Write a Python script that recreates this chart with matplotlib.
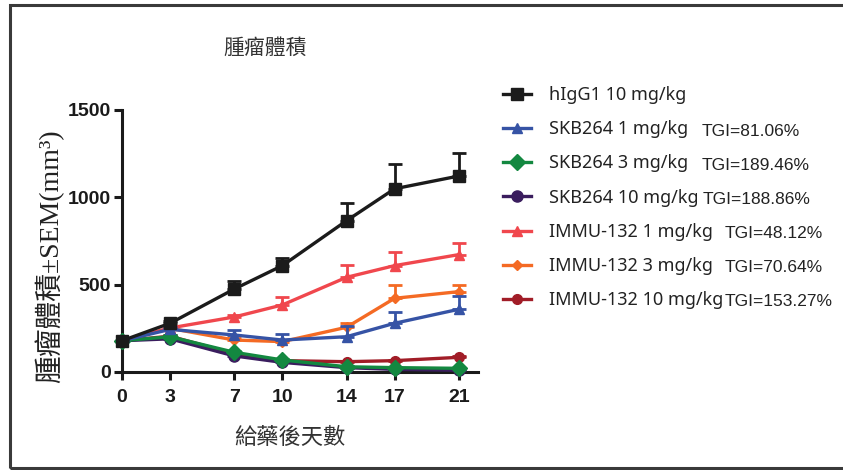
import matplotlib
matplotlib.use("Agg")
import matplotlib.pyplot as plt
from matplotlib.patches import Rectangle
import numpy as np

days = [0, 3, 7, 10, 14, 17, 21]

series_names = ["hIgG1 10 mg/kg", "SKB264 1 mg/kg", "SKB264 3 mg/kg", "SKB264 10 mg/kg",
                "IMMU-132 1 mg/kg", "IMMU-132 3 mg/kg", "IMMU-132 10 mg/kg"]
tgi_labels = ["", "TGI=81.06%", "TGI=189.46%", "TGI=188.86%",
              "TGI=48.12%", "TGI=70.64%", "TGI=153.27%"]

higg1 = [179, 279, 475, 609, 866, 1049, 1122]
higg1_err = [8, 15, 46, 42, 103, 142, 130]
skb1 = [179, 244, 212, 183, 202, 279, 359]
skb1_err = [8, 15, 28, 35, 61, 66, 78]
skb3 = [179, 202, 113, 69, 30, 25, 21]
skb3_err = [5, 8, 10, 8, 5, 4, 4]
skb10 = [179, 190, 92, 55, 25, 15, 10]
skb10_err = [5, 8, 10, 8, 5, 4, 4]
immu1 = [179, 252, 315, 384, 542, 609, 672]
immu1_err = [8, 10, 12, 44, 70, 76, 66]
immu3 = [179, 250, 183, 174, 256, 422, 460]
immu3_err = [8, 10, 10, 10, 26, 78, 40]
immu10 = [179, 205, 105, 65, 59, 65, 84]
immu10_err = [5, 8, 8, 6, 5, 5, 6]

values = [higg1, skb1, skb3, skb10, immu1, immu3, immu10]
errors = [higg1_err, skb1_err, skb3_err, skb10_err, immu1_err, immu3_err, immu10_err]
colors = ["#1b1b1b", "#3653a5", "#138840", "#3a1d5e", "#f0474d", "#f46a24", "#a11d27"]
markers = ["s", "^", "D", "o", "^", "D", "o"]
msizes = [8, 7, 8, 8, 7, 5, 7]

y_ticks = [0, 500, 1000, 1500]

fig = plt.figure(figsize=(8.43, 4.70), dpi=100)
ax = fig.add_axes([122/843, 1-372/470, (478-122)/843, (372-110)/470])

handles = []
n = len(values)
for i in range(n - 1, -1, -1):
    z = 10 + (n - i)
    ax.errorbar(days, values[i], yerr=[np.zeros(len(days)), errors[i]],
                fmt='none', ecolor=colors[i], elinewidth=2, capsize=5, capthick=2, zorder=z)
    h, = ax.plot(days, values[i], color=colors[i], lw=2.4, marker=markers[i],
                 markersize=msizes[i], markeredgecolor=colors[i], zorder=z + 0.5,
                 clip_on=False)
    handles.append(h)
handles = handles[::-1]

ax.set_xlim(0, 22.2)
ax.set_ylim(0, 1500)
ax.set_xticks(days)
ax.set_yticks(y_ticks)
for s in ["top", "right"]:
    ax.spines[s].set_visible(False)
for s in ["left", "bottom"]:
    ax.spines[s].set_linewidth(2.2)
    ax.spines[s].set_color("#1a1a1a")
ax.tick_params(width=2.2, length=6, color="#1a1a1a", direction="out")
ax.tick_params(axis='x', pad=6)
ax.tick_params(axis='y', pad=2)
for lab in ax.get_xticklabels() + ax.get_yticklabels():
    lab.set_fontfamily("Liberation Sans")
    lab.set_fontweight("bold")
    lab.set_fontsize(14)
    lab.set_color("#1a1a1a")

cjk = ["Noto Sans CJK TC"]
fig.text(265/843, 1-48/470, "腫瘤體積", ha="center", va="center",
         fontsize=15, family=cjk, color="#333333", fontweight="light")
fig.text(290/843, 1-438/470, "給藥後天數", ha="center", va="center",
         fontsize=16, family=cjk, color="#333333", fontweight="light")
fig.text(50/843, 1-256/470, "腫瘤體積±SEM(mm³)", ha="center", va="center",
         rotation=90, fontsize=20, family=["Liberation Serif", "Noto Sans CJK TC"],
         color="#222222", fontweight="light")

leg = ax.legend(handles, series_names, loc="upper left",
                bbox_to_anchor=(503/843, 1-86/470), bbox_transform=fig.transFigure,
                frameon=False, handlelength=1.55, handletextpad=1.0,
                labelspacing=0.9, borderpad=0, borderaxespad=0,
                prop={"family": "Noto Sans", "size": 13})
for t in leg.get_texts():
    t.set_color("#222222")

row_y = [95, 129, 163, 197, 231, 265, 299]
tgi_x = [0, 702, 702, 703, 725, 725, 725]
for i in range(1, n):
    fig.text(tgi_x[i]/843, 1-(row_y[i]+2)/470, tgi_labels[i], ha="left", va="center",
             fontsize=12.5, family="Liberation Sans", color="#222222")

fig.add_artist(Rectangle((10/843, 2/470), 1.0, 1-7/470, fill=False, lw=2.2,
                         ec="#3a3a3a", transform=fig.transFigure))

fig.savefig("out.png", dpi=100)
